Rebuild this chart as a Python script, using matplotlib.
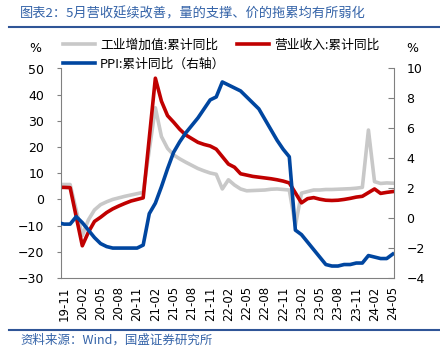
import matplotlib
matplotlib.use('Agg')
import matplotlib.pyplot as plt
from matplotlib.lines import Line2D
from matplotlib.font_manager import FontProperties
import numpy as np
import pandas as pd

# 月份：2019-10 ~ 2024-05
months = pd.period_range('2019-10', '2024-05', freq='M')

# 工业增加值:累计同比 (%)
ip = [5.7, 5.7, 5.7,
      None, -13.8, -7.8, -4.0, -2.0, -0.9, 0.0, 0.6, 1.2, 1.7, 2.2, 2.7,
      None, 35.0, 24.0, 19.5, 17.0, 15.5, 14.2, 13.0, 11.8, 10.9, 10.1, 9.6,
      4.0, 7.5, 5.5, 4.0, 3.3, 3.4, 3.5, 3.6, 3.9, 4.0, 3.8, 3.6,
      -10.0, 2.4, 3.0, 3.6, 3.6, 3.8, 3.8, 3.9, 4.0, 4.1, 4.3, 4.6,
      26.5, 6.8, 6.1, 6.3, 6.2]

# 营业收入:累计同比 (%)
rev = [4.6, 4.6, 4.5,
       None, -17.7, -12.5, -8.4, -6.8, -5.0, -3.6, -2.5, -1.5, -0.6, 0.0, 0.6,
       None, 46.3, 37.5, 32.0, 29.5, 26.8, 24.6, 23.2, 21.8, 21.0, 20.4, 19.2,
       None, 13.5, 12.3, 9.8, 9.3, 8.8, 8.5, 8.2, 7.9, 7.5, 7.0, 6.3,
       None, -1.3, 0.3, 0.7, 0.1, -0.3, -0.4, -0.3, 0.0, 0.4, 0.9, 1.2,
       None, 4.0, 2.3, 2.7, 3.0]

# PPI:累计同比 (%，右轴)
ppi = [-0.3, -0.4, -0.4,
       0.1, -0.3, -0.8, -1.3, -1.7, -1.9, -2.0, -2.0, -2.0, -2.0, -2.0, -1.8,
       0.3, 1.0, 2.1, 3.3, 4.4, 5.1, 5.7, 6.2, 6.7, 7.3, 7.9, 8.1,
       9.1, 8.9, 8.7, 8.5, 8.1, 7.7, 7.3, 6.6, 5.9, 5.2, 4.6, 4.1,
       -0.8, -1.1, -1.6, -2.1, -2.6, -3.1, -3.2, -3.2, -3.1, -3.1, -3.0, -3.0,
       -2.5, -2.6, -2.7, -2.7, -2.4]

labels = ['工业增加值:累计同比', '营业收入:累计同比', 'PPI:累计同比（右轴）']
title = '图表2：5月营收延续改善，量的支撑、价的拖累均有所弱化'
source = '资料来源：Wind，国盛证券研究所'

cjk = ['Noto Sans CJK SC', 'DejaVu Sans']
blue_txt = '#3463a8'
axis_c = '#808080'

x = np.arange(len(months)) - 1
s_ip = pd.Series(ip, index=x, dtype=float).dropna()
s_rev = pd.Series(rev, index=x, dtype=float).dropna()
s_ppi = pd.Series(ppi, index=x, dtype=float).dropna()

fig = plt.figure(figsize=(4.4, 3.64), dpi=100)
ax = fig.add_axes([61 / 440, 1 - 278 / 364, 333 / 440, 209.5 / 364])
ax2 = ax.twinx()

l1, = ax.plot(s_ip.index, s_ip.values, color='#c8c8c8', lw=2.6, solid_joinstyle='round')
l2, = ax.plot(s_rev.index, s_rev.values, color='#c00000', lw=2.6, solid_joinstyle='round')
l3, = ax2.plot(s_ppi.index, s_ppi.values, color='#0046a0', lw=2.6, solid_joinstyle='round')

ax.set_xlim(-0.5, 54.2)
ax.set_ylim(-30, 50)
ax2.set_ylim(-4, 10)
ax.set_yticks(range(-30, 51, 10))
ax2.set_yticks(range(-4, 11, 2))
ticks = x[1::3]
ax.set_xticks(ticks)
ax.set_xticklabels([m.strftime('%y-%m') for m in months[1::3]], rotation=90)

for a in (ax, ax2):
    a.spines['top'].set_visible(False)
    for sp in a.spines.values():
        sp.set_color(axis_c)
ax.spines['right'].set_visible(False)
ax2.spines['left'].set_visible(False)
ax2.spines['bottom'].set_visible(False)

ax.tick_params(axis='x', length=0, pad=6, labelsize=8.5)
ax.tick_params(axis='y', direction='out', length=3, color=axis_c, pad=9, labelsize=9)
ax2.tick_params(axis='y', direction='in', length=4, color=axis_c, pad=9, labelsize=9)

# 图例
fig.legend([l1, l3, l2], [labels[0], labels[2], labels[1]], ncol=2,
           loc='upper left', bbox_to_anchor=(63 / 440, 1 - 38.5 / 364),
           frameon=False, borderpad=0, borderaxespad=0,
           handlelength=2.5, handletextpad=0.4, columnspacing=0.9,
           labelspacing=0.49, prop=FontProperties(family=cjk, size=9.2))

fig.text(35.5 / 440, 1 - 48 / 364, '%', ha='center', va='center', fontsize=9)
fig.text(412.5 / 440, 1 - 48 / 364, '%', ha='center', va='center', fontsize=9)

# 标题和来源
fig.text(20 / 440, 1 - 13.5 / 364, title, family=cjk, fontsize=9.5,
         color=blue_txt, va='center', ha='left')
fig.add_artist(Line2D([9 / 440, 1], [1 - 26.5 / 364] * 2, color='#2f5597', lw=1.5))
fig.add_artist(Line2D([9 / 440, 1], [1 - 330 / 364] * 2, color='#2f5597', lw=1.5))
fig.text(20 / 440, 1 - 340 / 364, source, family=cjk, fontsize=9,
         color=blue_txt, va='center', ha='left')

fig.savefig('out.png', dpi=100)
